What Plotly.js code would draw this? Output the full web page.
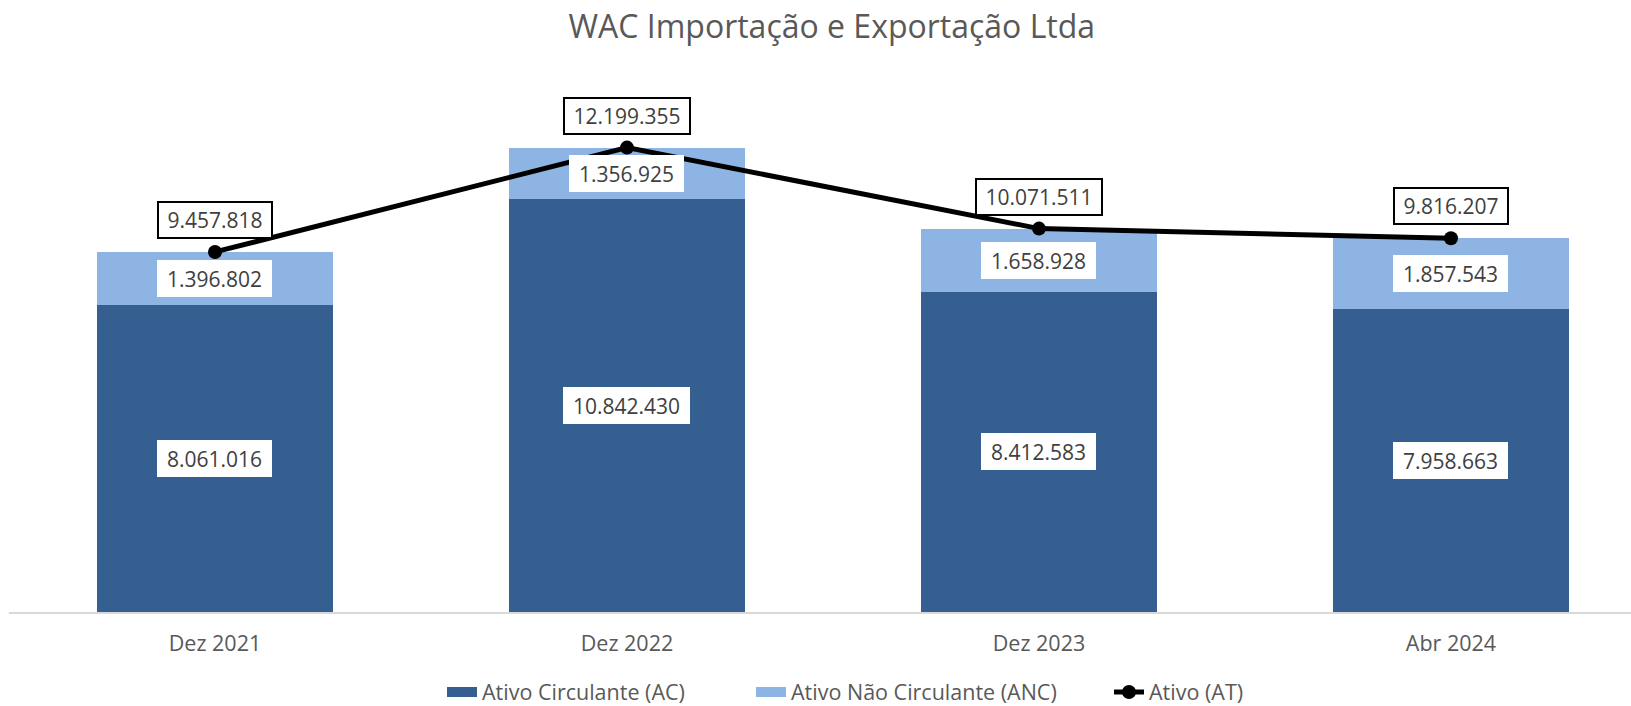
<!DOCTYPE html>
<html>
<head>
<meta charset="utf-8">
<script src="https://cdn.plot.ly/plotly-3.0.1.min.js"></script>
<style>html,body{margin:0;padding:0;background:#fff;}#chart{width:1631px;height:706px;}</style>
</head>
<body>
<div id="chart"></div>
<script>
const categories = ["Dez 2021", "Dez 2022", "Dez 2023", "Abr 2024"];
const ativoCirculante = [8061016, 10842430, 8412583, 7958663];
const ativoNaoCirculante = [1396802, 1356925, 1658928, 1857543];
const ativoTotal = [9457818, 12199355, 10071511, 9816207];
const seriesNames = ["Ativo Circulante (AC)", "Ativo Não Circulante (ANC)", "Ativo (AT)"];
const chartTitle = "WAC Importação e Exportação Ltda";

function fmt(v) {
  return String(v).replace(/\B(?=(\d{3})+(?!\d))/g, ".");
}
function boxW(s) {
  let w = 0;
  for (const c of s) w += (c === ".") ? 5.6 : 11.7;
  return Math.round(w + 22);
}

const FONT = "Open Sans, sans-serif";
const LABEL_COLOR = "#404040";
const AC_COLOR = "#365F91";
const ANC_COLOR = "#8EB4E3";

const traces = [
  {
    type: "bar", name: seriesNames[0], x: categories, y: ativoCirculante,
    marker: {color: AC_COLOR}, hoverinfo: "skip", showlegend: false
  },
  {
    type: "bar", name: seriesNames[1], x: categories, y: ativoNaoCirculante,
    marker: {color: ANC_COLOR}, hoverinfo: "skip", showlegend: false
  },
  // legend-only entries drawn as wide colour swatches
  {
    type: "scatter", mode: "lines", name: seriesNames[0], x: [categories[0]], y: [null],
    line: {color: AC_COLOR, width: 16}, hoverinfo: "skip", legend: "legend"
  },
  {
    type: "scatter", mode: "lines", name: seriesNames[1], x: [categories[0]], y: [null],
    line: {color: ANC_COLOR, width: 16}, hoverinfo: "skip", legend: "legend2"
  },
  {
    type: "scatter", mode: "lines+markers", name: seriesNames[2], x: categories, y: ativoTotal,
    line: {color: "#000000", width: 5}, marker: {color: "#000000", size: 14}, hoverinfo: "skip", legend: "legend3"
  }
];

const annotations = [];
categories.forEach((c, i) => {
  const acTxt = fmt(ativoCirculante[i]);
  annotations.push({
    x: c, y: ativoCirculante[i] / 2, xref: "x", yref: "y", text: acTxt, showarrow: false,
    font: {family: FONT, size: 21, color: LABEL_COLOR},
    bgcolor: "#ffffff", borderwidth: 0, borderpad: 0, width: boxW(acTxt), height: 37
  });
  const ancTxt = fmt(ativoNaoCirculante[i]);
  annotations.push({
    x: c, y: ativoCirculante[i] + ativoNaoCirculante[i] / 2, xref: "x", yref: "y", text: ancTxt, showarrow: false,
    font: {family: FONT, size: 21, color: LABEL_COLOR},
    bgcolor: "#ffffff", borderwidth: 0, borderpad: 0, width: boxW(ancTxt), height: 37
  });
  const atTxt = fmt(ativoTotal[i]);
  annotations.push({
    x: c, y: ativoTotal[i], xref: "x", yref: "y", text: atTxt, showarrow: false,
    yanchor: "bottom", yshift: 13,
    font: {family: FONT, size: 21, color: LABEL_COLOR},
    bgcolor: "#ffffff", bordercolor: "#000000", borderwidth: 2, borderpad: 0,
    width: boxW(atTxt) - 3, height: 34
  });
});

function legendAt(xpx) {
  return {
    orientation: "h", x: xpx / 1631, xanchor: "left", xref: "container",
    y: 1 - 692 / 706, yanchor: "middle", yref: "container",
    font: {family: FONT, size: 21.5, color: "#595959"},
    bgcolor: "rgba(0,0,0,0)", borderwidth: 0
  };
}

const layout = {
  width: 1631, height: 706,
  margin: {l: 9, r: 0, t: 60, b: 94, autoexpand: false},
  paper_bgcolor: "#ffffff", plot_bgcolor: "#ffffff",
  font: {family: FONT, color: "#595959"},
  title: {
    text: chartTitle, font: {family: FONT, size: 32, color: "#595959"},
    x: 0.51, xref: "container", xanchor: "center", y: 1 - 27 / 706, yref: "container", yanchor: "middle"
  },
  barmode: "stack", bargap: 0.427,
  showlegend: true,
  legend: legendAt(442),
  legend2: legendAt(751),
  legend3: legendAt(1109),
  xaxis: {
    type: "category", range: [-0.5, 3.437], fixedrange: true,
    showline: true, linecolor: "#D9D9D9", linewidth: 2, showgrid: false, zeroline: false,
    ticks: "", tickfont: {family: FONT, size: 21.5, color: "#595959"}, ticklabelstandoff: 11
  },
  yaxis: {
    range: [0, 14.5e6], showgrid: false, zeroline: false, showticklabels: false, showline: false, fixedrange: true
  },
  annotations: annotations
};

Plotly.newPlot("chart", traces, layout, {displayModeBar: false, staticPlot: true});
</script>
</body>
</html>
